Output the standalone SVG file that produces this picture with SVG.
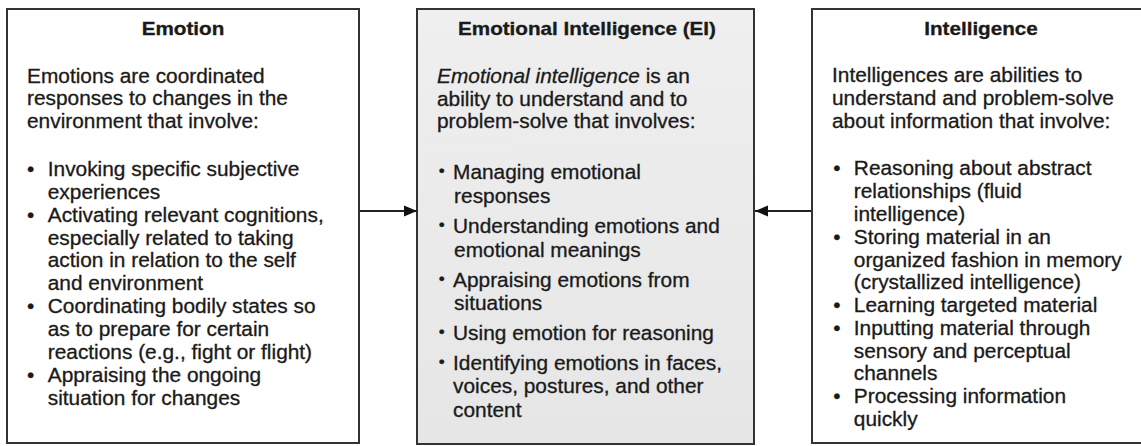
<svg xmlns="http://www.w3.org/2000/svg" width="1141" height="446" viewBox="0 0 1141 446">
  <style>
    .box { stroke: #333; stroke-width: 2; }
    .plain { fill: #fff; }
    .shaded { fill: url(#shade); }
    text { font-family: "Liberation Sans", Arial, sans-serif; fill: #1a1a1a; stroke: #1a1a1a; stroke-width: 0.3px; }
    .title { font-size: 17.5px; font-weight: bold; text-anchor: middle; }
    .body { font-size: 19.5px; }
    .dot { font-size: 19.5px; text-anchor: middle; }
    .sdot { font-size: 16px; text-anchor: middle; }
    .link { stroke: #222; stroke-width: 2; fill: none; }
  </style>
  <defs>
    <linearGradient id="shade" x1="0" y1="0" x2="0" y2="1">
      <stop offset="0" stop-color="#efefef"/>
      <stop offset="1" stop-color="#e6e6e6"/>
    </linearGradient>
    <marker id="head" markerUnits="userSpaceOnUse" markerWidth="14" markerHeight="12" refX="13" refY="6" orient="auto">
      <path d="M0,0.5 L13,6 L0,11.5 Z" fill="#111"/>
    </marker>
  </defs>

  <!-- Emotion -->
  <g id="emotion">
    <rect class="box plain" x="7" y="9" width="352" height="434"/>
    <text class="title" transform="translate(183,35) scale(1.18,1)">Emotion</text>
    <g transform="translate(27,0) scale(1.07,1)">
      <text class="body" x="0" y="82.7">Emotions are coordinated</text>
      <text class="body" x="0" y="105.5">responses to changes in the</text>
      <text class="body" x="0" y="128.3">environment that involve:</text>
      <text class="dot" x="3.3" y="176">•</text>
      <text class="body" x="19.4" y="176">Invoking specific subjective</text>
      <text class="body" x="19.4" y="199">experiences</text>
      <text class="dot" x="3.3" y="222">•</text>
      <text class="body" x="19.4" y="222">Activating relevant cognitions,</text>
      <text class="body" x="19.4" y="245">especially related to taking</text>
      <text class="body" x="19.4" y="267.5">action in relation to the self</text>
      <text class="body" x="19.4" y="290.3">and environment</text>
      <text class="dot" x="3.3" y="313">•</text>
      <text class="body" x="19.4" y="313">Coordinating bodily states so</text>
      <text class="body" x="19.4" y="336">as to prepare for certain</text>
      <text class="body" x="19.4" y="359">reactions (e.g., fight or flight)</text>
      <text class="dot" x="3.3" y="382">•</text>
      <text class="body" x="19.4" y="382">Appraising the ongoing</text>
      <text class="body" x="19.4" y="405">situation for changes</text>
    </g>
  </g>

  <!-- Emotional Intelligence (EI) -->
  <g id="ei">
    <rect class="box shaded" x="417" y="9" width="337" height="435"/>
    <text class="title" transform="translate(587,35) scale(1.18,1)">Emotional Intelligence (EI)</text>
    <g transform="translate(437,0) scale(1.07,1)">
      <text class="body" x="0" y="83"><tspan font-style="italic">Emotional intelligence</tspan> is an</text>
      <text class="body" x="0" y="105.7">ability to understand and to</text>
      <text class="body" x="0" y="128.4">problem-solve that involves:</text>
      <text class="sdot" x="4.4" y="176">•</text>
      <text class="body" x="15" y="179">Managing emotional</text>
      <text class="body" x="16" y="203">responses</text>
      <text class="sdot" x="4.4" y="230">•</text>
      <text class="body" x="15" y="233">Understanding emotions and</text>
      <text class="body" x="16" y="257">emotional meanings</text>
      <text class="sdot" x="4.4" y="284">•</text>
      <text class="body" x="15" y="287">Appraising emotions from</text>
      <text class="body" x="16" y="310">situations</text>
      <text class="sdot" x="4.4" y="337">•</text>
      <text class="body" x="15" y="340">Using emotion for reasoning</text>
      <text class="sdot" x="4.4" y="367">•</text>
      <text class="body" x="15" y="370">Identifying emotions in faces,</text>
      <text class="body" x="15" y="393.5">voices, postures, and other</text>
      <text class="body" x="15" y="417">content</text>
    </g>
  </g>

  <!-- Intelligence -->
  <g id="intelligence">
    <rect class="box plain" x="812" y="9" width="340" height="434"/>
    <text class="title" transform="translate(981,35) scale(1.18,1)">Intelligence</text>
    <g transform="translate(832,0) scale(1.07,1)">
      <text class="body" x="0" y="82.5">Intelligences are abilities to</text>
      <text class="body" x="0" y="105.3">understand and problem-solve</text>
      <text class="body" x="0" y="128.1">about information that involve:</text>
      <text class="dot" x="4.7" y="175">•</text>
      <text class="body" x="20.4" y="175">Reasoning about abstract</text>
      <text class="body" x="20.4" y="198">relationships (fluid</text>
      <text class="body" x="20.4" y="221">intelligence)</text>
      <text class="dot" x="4.7" y="244">•</text>
      <text class="body" x="20.4" y="244">Storing material in an</text>
      <text class="body" x="20.4" y="267">organized fashion in memory</text>
      <text class="body" x="20.4" y="289.5">(crystallized intelligence)</text>
      <text class="dot" x="4.7" y="312.5">•</text>
      <text class="body" x="20.4" y="312.5">Learning targeted material</text>
      <text class="dot" x="4.7" y="335">•</text>
      <text class="body" x="20.4" y="335">Inputting material through</text>
      <text class="body" x="20.4" y="358">sensory and perceptual</text>
      <text class="body" x="20.4" y="380.5">channels</text>
      <text class="dot" x="4.7" y="403">•</text>
      <text class="body" x="20.4" y="403">Processing information</text>
      <text class="body" x="20.4" y="426">quickly</text>
    </g>
  </g>

  <!-- connectors -->
  <g id="connectors">
    <line class="link" x1="360" y1="211" x2="417" y2="211" marker-end="url(#head)"/>
    <line class="link" x1="811" y1="211" x2="755" y2="211" marker-end="url(#head)"/>
  </g>
</svg>
